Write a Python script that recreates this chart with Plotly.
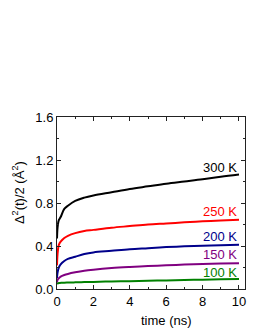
import plotly.graph_objects as go

t = [0, 0.02, 0.05, 0.1, 0.2, 0.4, 0.6, 1, 1.5, 2, 3, 4, 5, 6, 7, 8, 9, 10]
y300 = [0.47, 0.55, 0.60, 0.64, 0.67, 0.745, 0.775, 0.82, 0.85, 0.87, 0.90, 0.93, 0.955, 0.98, 1.00, 1.02, 1.045, 1.065]
y250 = [0.22, 0.30, 0.36, 0.41, 0.44, 0.475, 0.495, 0.52, 0.54, 0.55, 0.57, 0.585, 0.60, 0.61, 0.62, 0.63, 0.637, 0.645]
y200 = [0.10, 0.14, 0.17, 0.20, 0.23, 0.26, 0.28, 0.30, 0.325, 0.34, 0.355, 0.37, 0.38, 0.39, 0.397, 0.403, 0.408, 0.412]
y150 = [0.06, 0.08, 0.09, 0.10, 0.115, 0.13, 0.14, 0.155, 0.17, 0.18, 0.195, 0.205, 0.213, 0.22, 0.227, 0.232, 0.237, 0.24]
y100 = [0.045, 0.05, 0.052, 0.055, 0.057, 0.059, 0.06, 0.062, 0.064, 0.066, 0.07, 0.073, 0.077, 0.08, 0.084, 0.087, 0.09, 0.093]

labels = ["300 K", "250 K", "200 K", "150 K", "100 K"]
label_y = [1.127, 0.72, 0.49, 0.32, 0.15]
colors = ["#000000", "#ff0000", "#00008b", "#800080", "#008000"]
series = [y300, y250, y200, y150, y100]

FONT = "Liberation Sans, Arial, sans-serif"

fig = go.Figure()
for ys, c in zip(series, colors):
    fig.add_trace(go.Scatter(x=t, y=ys, mode="lines", line=dict(color=c, width=2, shape="spline"),
                             showlegend=False, hoverinfo="skip"))

for lab, ly, c in zip(labels, label_y, colors):
    fig.add_annotation(x=10, y=ly, text=lab, showarrow=False, xanchor="right", yanchor="middle",
                       font=dict(family=FONT, size=13, color=c))

fig.add_annotation(xref="paper", yref="paper", x=-0.207, y=0.558, text="Δ<sup>2</sup>(t)/2 (Å<sup>2</sup>)",
                   textangle=-90, showarrow=False, xanchor="center", yanchor="middle",
                   font=dict(family=FONT, size=13, color="#000"))
fig.add_annotation(xref="paper", yref="paper", x=0.58, y=-0.186, text="time (ns)",
                   showarrow=False, xanchor="center", yanchor="middle",
                   font=dict(family=FONT, size=13, color="#000"))

axis_common = dict(showgrid=False, zeroline=False, showline=True, linecolor="#222", linewidth=1,
                   mirror="ticks", ticks="inside", ticklen=4, tickcolor="#222",
                   tickfont=dict(family=FONT, size=13, color="#000"))

fig.update_xaxes(range=[0, 10.33], tickvals=[0, 2, 4, 6, 8, 10], ticktext=["0", "2", "4", "6", "8", "10"],
                 minor=dict(ticks="inside", ticklen=2, dtick=1, tickcolor="#222"), **axis_common)
fig.update_yaxes(range=[0, 1.6], tickvals=[0, 0.4, 0.8, 1.2, 1.6], ticktext=["0.0", "0.4", "0.8", "1.2", "1.6"],
                 minor=dict(ticks="inside", ticklen=2, dtick=0.2, tickcolor="#222"), **axis_common)

fig.update_layout(width=255, height=330, margin=dict(l=57, r=10, t=117, b=41),
                  paper_bgcolor="white", plot_bgcolor="white")

fig.write_html("out.html", config={"displayModeBar": False},
               post_script="document.body.style.margin='0px';document.body.style.overflow='hidden';")
